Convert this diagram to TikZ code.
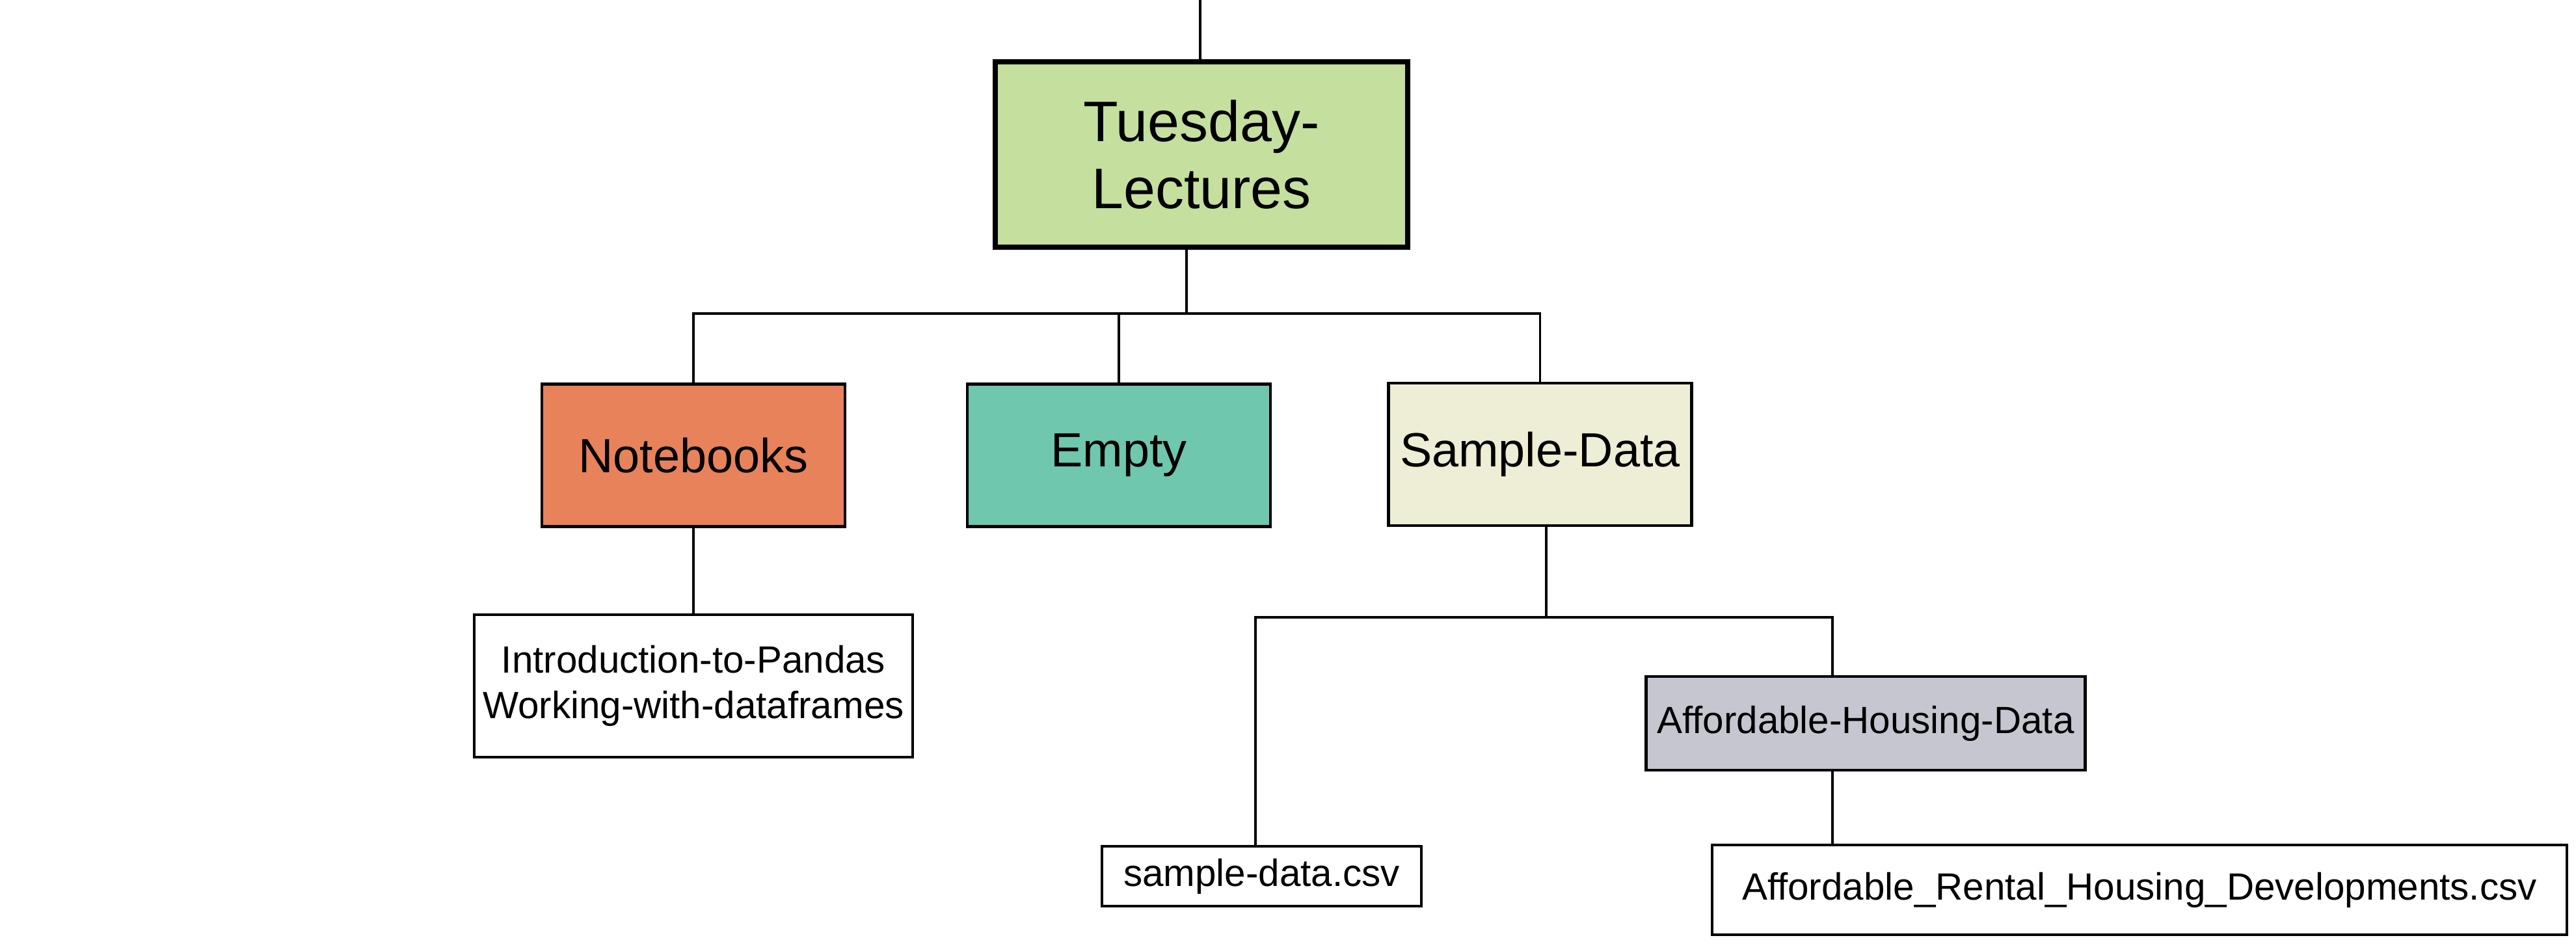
\documentclass[tikz,border=0pt]{standalone}
\usepackage{fontspec}
\setmainfont{Liberation Sans}
\definecolor{tuegreen}{HTML}{C5DF9F}
\definecolor{nborange}{HTML}{E8825A}
\definecolor{emteal}{HTML}{6FC7AE}
\definecolor{sdcream}{HTML}{EEEDD5}
\definecolor{ahdgrey}{HTML}{C5C6CF}

\begin{document}
\begin{tikzpicture}[
    box/.style={draw,line width=1.3pt,inner sep=0pt,align=center},
    big/.style={font=\fontsize{21}{25}\selectfont,minimum width=4.66cm,minimum height=2.19cm},
    small/.style={font=\fontsize{16.6}{19.8}\selectfont},
    link/.style={line width=0.95pt}]
    \useasboundingbox (0,0) rectangle (39.6,-14.62);

    % Nodes
    \node (tue) at (18.47,-2.375) [box,line width=2.3pt,fill=tuegreen,minimum width=6.34cm,minimum height=2.85cm,font=\fontsize{25}{29.5}\selectfont] {Tuesday-\\Lectures};
    \node (nb) at (10.66,-7.00) [box,big,fill=nborange] {Notebooks};
    \node (em) at (17.20,-7.00) [box,big,fill=emteal] {Empty};
    \node (sd) at (23.675,-6.985) [box,big,fill=sdcream] {Sample-Data};
    \node (intro) at (10.66,-10.545) [box,small,minimum width=6.74cm,minimum height=2.19cm] {Introduction-to-Pandas\\Working-with-dataframes};
    \node (ahd) at (28.68,-11.12) [box,small,fill=ahdgrey,minimum width=6.75cm,minimum height=1.44cm] {Affordable-Housing-Data};
    \node (csv) at (19.395,-13.47) [box,small,minimum width=4.91cm,minimum height=0.92cm] {sample-data.csv};
    \node (rental) at (32.89,-13.68) [box,small,minimum width=13.14cm,minimum height=1.38cm] {Affordable\_Rental\_Housing\_Developments.csv};

    % Junctions
    \coordinate (top) at (18.45,0);
    \coordinate (bus) at (18.24,-4.82);
    \coordinate (sbus) at (23.77,-9.49);
    \coordinate (bl) at (19.30,-9.49);
    \coordinate (br) at (28.17,-9.49);

    % Edges
    \draw[link] (top) -- (top |- tue.north);
    \draw[link] (bus |- tue.south) -- (bus);
    \draw[link] (nb.north) |- (bus) -| (sd.north);
    \draw[link] (em.north) -- (em.north |- bus);
    \draw[link] (nb) -- (intro);
    \draw[link] (sbus |- sd.south) -- (sbus);
    \draw[link] (bl |- csv.north) -- (bl) -- (br) -- (br |- ahd.north);
    \draw[link] (br |- ahd.south) -- (br |- rental.north);
\end{tikzpicture}
\end{document}
